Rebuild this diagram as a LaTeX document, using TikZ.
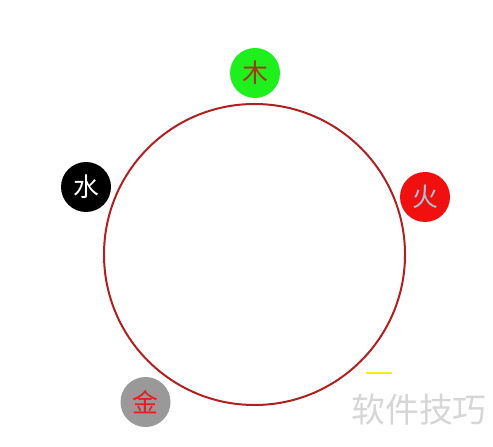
\documentclass[tikz,border=0pt]{standalone}
\usepackage{fontspec}
\newfontfamily\cjk{Noto Sans CJK SC}
\definecolor{ringred}{HTML}{B02020}
\definecolor{wood}{HTML}{1EF01E}
\definecolor{woodtxt}{HTML}{A03A10}
\definecolor{fire}{HTML}{F01010}
\definecolor{firetxt}{HTML}{A8C4D4}
\definecolor{metal}{HTML}{999999}
\definecolor{metaltxt}{HTML}{E02020}
\definecolor{wmark}{HTML}{D6D6D6}
\definecolor{ymark}{HTML}{F2F020}
\tikzset{
  elem/.style={circle, minimum size=50bp, inner sep=0pt, font=\cjk\fontsize{26}{26}\selectfont},
}
\begin{document}
\begin{tikzpicture}[x=1bp,y=-1bp]
\useasboundingbox (0,0) rectangle (493,447);
\node[circle, draw=ringred, line width=2bp, minimum size=301bp, inner sep=0pt] (ring) at (254.5,254.5) {};
\node[elem, fill=wood, text=woodtxt] (mu) at (255,73) {木};
\node[elem, fill=fire, text=firetxt] (huo) at (425,197) {火};
\node[elem, fill=black, text=white] (shui) at (86,187) {水};
\node[elem, fill=metal, text=metaltxt] (jin) at (145.5,402) {金};
\coordinate (y1) at (366,373);
\coordinate (y2) at (392,373);
\draw[ymark, line width=2.5bp] (y1) -- (y2);
\node[text=wmark, font=\cjk\fontsize{34}{34}\selectfont, inner sep=0pt] (wm) at (419,410) {软件技巧};
\end{tikzpicture}
\end{document}
